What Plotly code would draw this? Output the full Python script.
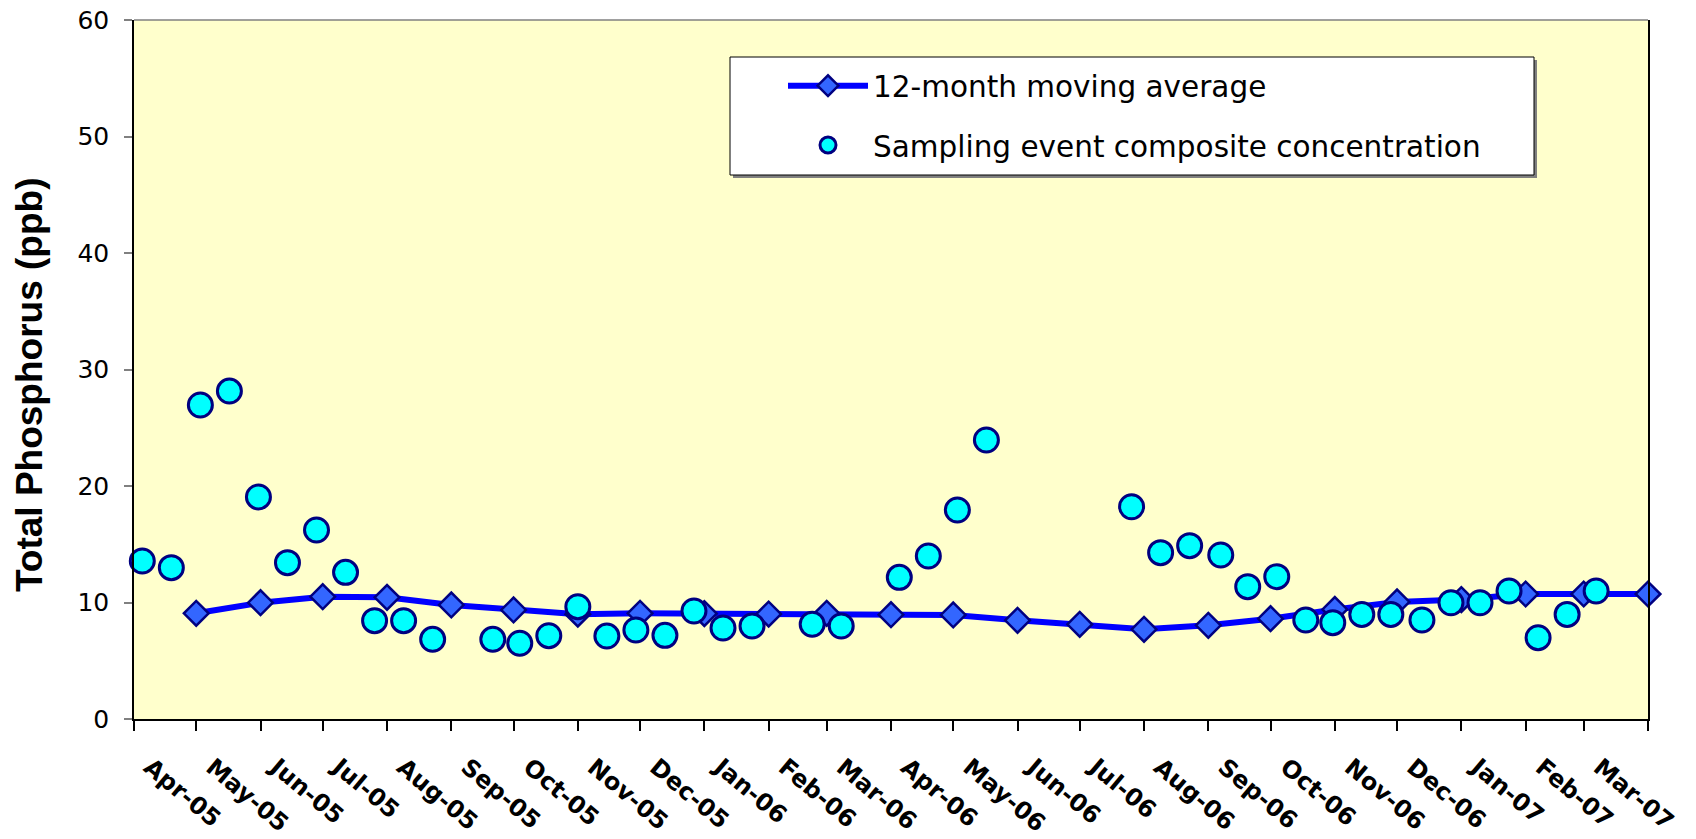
import plotly.graph_objects as go

# Month tick positions and their labels (last tick has no label)
tick_dates = ["2005-04-01", "2005-05-01", "2005-06-01", "2005-07-01", "2005-08-01", "2005-09-01",
              "2005-10-01", "2005-11-01", "2005-12-01", "2006-01-01", "2006-02-01", "2006-03-01",
              "2006-04-01", "2006-05-01", "2006-06-01", "2006-07-01", "2006-08-01", "2006-09-01",
              "2006-10-01", "2006-11-01", "2006-12-01", "2007-01-01", "2007-02-01", "2007-03-01",
              "2007-04-01"]
tick_labels = ["Apr-05", "May-05", "Jun-05", "Jul-05", "Aug-05", "Sep-05", "Oct-05", "Nov-05",
               "Dec-05", "Jan-06", "Feb-06", "Mar-06", "Apr-06", "May-06", "Jun-06", "Jul-06",
               "Aug-06", "Sep-06", "Oct-06", "Nov-06", "Dec-06", "Jan-07", "Feb-07", "Mar-07", ""]

# 12-month moving average (month starts)
ma_dates = ["2005-05-01", "2005-06-01", "2005-07-01", "2005-08-01", "2005-09-01", "2005-10-01",
            "2005-11-01", "2005-12-01", "2006-01-01", "2006-02-01", "2006-03-01", "2006-04-01",
            "2006-05-01", "2006-06-01", "2006-07-01", "2006-08-01", "2006-09-01", "2006-10-01",
            "2006-11-01", "2006-12-01", "2007-01-01", "2007-02-01", "2007-03-01", "2007-04-01"]
ma_values = [9.07, 9.98, 10.5, 10.44, 9.79, 9.36, 9.0, 9.07, 9.05, 9.01, 9.07, 8.95,
             8.93, 8.47, 8.13, 7.7, 8.04, 8.61, 9.4, 10.05, 10.25, 10.73, 10.73, 10.73]

# Sampling event composite concentrations
sample_dates = ["2005-04-05", "2005-04-19", "2005-05-03", "2005-05-17", "2005-05-31", "2005-06-14",
                "2005-06-28", "2005-07-12", "2005-07-26", "2005-08-09", "2005-08-23", "2005-09-21",
                "2005-10-04", "2005-10-18", "2005-11-01", "2005-11-15", "2005-11-29", "2005-12-13",
                "2005-12-27", "2006-01-10", "2006-01-24", "2006-02-22", "2006-03-08", "2006-04-05",
                "2006-04-19", "2006-05-03", "2006-05-17", "2006-07-26", "2006-08-09", "2006-08-23",
                "2006-09-07", "2006-09-20", "2006-10-04", "2006-10-18", "2006-10-31", "2006-11-14",
                "2006-11-28", "2006-12-13", "2006-12-27", "2007-01-10", "2007-01-24", "2007-02-07",
                "2007-02-21", "2007-03-07"]
sample_values = [13.56, 12.99, 26.95, 28.15, 19.06, 13.42, 16.22, 12.59, 8.44, 8.44, 6.84, 6.84,
                 6.5, 7.15, 9.64, 7.12, 7.64, 7.18, 9.27, 7.81, 7.98, 8.13, 7.98, 12.16,
                 13.99, 17.94, 23.95, 18.22, 14.28, 14.88, 14.08, 11.36, 12.22, 8.5, 8.27, 8.98,
                 8.98, 8.5, 9.98, 9.98, 10.99, 6.98, 8.98, 10.99]

W, H = 1696, 839
OFF = 0  # page body margin removed by post_script
L, R, T, B = 134, 48, 20, 120
PW, PH = W - L - R, H - T - B


def px(sx):
    return (sx - OFF - L) / PW


def py(sy):
    return (H - B - (sy - OFF)) / PH


fig = go.Figure()
fig.add_trace(go.Scatter(
    x=ma_dates, y=ma_values, mode="lines+markers", name="12-month moving average",
    line=dict(color="#0000FF", width=6),
    marker=dict(symbol="diamond", size=19, color="#3366FF", line=dict(color="#000080", width=2.5)),
    cliponaxis=False, legendgroup="a"))
fig.add_trace(go.Scatter(
    x=sample_dates, y=sample_values, mode="markers", name="Sampling event composite concentration",
    marker=dict(symbol="circle", size=24, color="#00FFFF", line=dict(color="#000080", width=3)),
    cliponaxis=False, legendgroup="b"))

shapes = [
    # legend shadow
    dict(type="rect", xref="paper", yref="paper", x0=px(733), x1=px(1537), y0=py(178), y1=py(60),
         fillcolor="#808080", line=dict(width=0), layer="above"),
    # legend box
    dict(type="rect", xref="paper", yref="paper", x0=px(730), x1=px(1534), y0=py(175), y1=py(57),
         fillcolor="white", line=dict(color="black", width=1), layer="above"),
    # top border of plot area
    dict(type="line", xref="paper", yref="paper", x0=0, x1=1, y0=1, y1=1,
         line=dict(color="#808080", width=1.5)),
]

fig.update_layout(
    width=W, height=H,
    margin=dict(l=L, r=R, t=T, b=B, autoexpand=False),
    paper_bgcolor="white", plot_bgcolor="#FFFFCC",
    showlegend=True,
    legend=dict(x=px(783), y=py(60), xanchor="left", yanchor="top",
                bgcolor="rgba(0,0,0,0)", borderwidth=0,
                font=dict(family="DejaVu Sans", size=29.5, color="black"),
                itemwidth=80, traceorder="grouped", tracegroupgap=18),
    shapes=shapes,
    annotations=[dict(text="<b>Total Phosphorus (ppb)</b>", xref="paper", yref="paper",
                      x=px(29), y=py(385), xanchor="center", yanchor="middle",
                      textangle=-90, showarrow=False,
                      font=dict(family="Liberation Sans", size=37, color="black"))],
    xaxis=dict(type="date", range=["2005-04-01", "2007-04-01"],
               tickmode="array", tickvals=tick_dates, ticktext=tick_labels,
               tickangle=40, ticks="outside", ticklen=10, tickcolor="black",
               tickwidth=1.5, showline=True, linecolor="black", linewidth=1.5, showgrid=False,
               zeroline=False, ticklabelstandoff=13, ticklabelshift=16, automargin=False,
               ticklabeloverflow="allow",
               tickfont=dict(family="DejaVu Sans", size=24, color="black", weight="bold")),
    yaxis=dict(range=[0, 60], dtick=10, ticks="outside", ticklen=8, tickcolor="#808080",
               tickwidth=1.5, showline=True, linecolor="black", linewidth=1.5, mirror=True,
               showgrid=False, zeroline=False, ticklabelstandoff=10, automargin=False,
               ticklabeloverflow="allow",
               tickfont=dict(family="DejaVu Sans", size=25, color="black")),
)

fig.write_html("out.html", config={"displayModeBar": False},
               post_script="document.body.style.margin='0px';")
